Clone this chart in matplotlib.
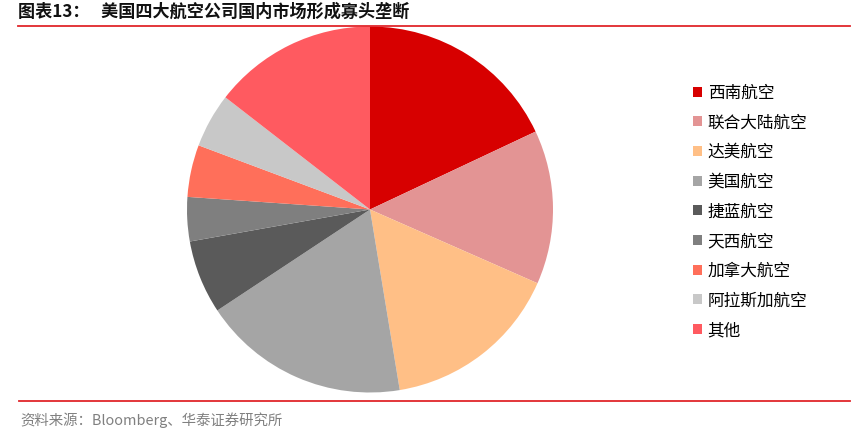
import matplotlib.pyplot as plt
from matplotlib.lines import Line2D

plt.rcParams['font.family'] = ['Noto Sans CJK SC', 'DejaVu Sans']

# 市场份额 (%)
airlines = ['西南航空', '联合大陆航空', '达美航空', '美国航空', '捷蓝航空',
            '天西航空', '加拿大航空', '阿拉斯加航空', '其他']
shares = [18.0, 13.6, 15.8, 18.3, 6.5, 3.9, 4.6, 4.8, 14.5]
colors = ['#D70000', '#E39494', '#FFBF86', '#A5A5A5', '#5A5A5A',
          '#7F7F7F', '#FF6F5A', '#C8C8C8', '#FF5A60']

W, H = 861, 441
fig = plt.figure(figsize=(W / 100, H / 100), dpi=100)

# 饼图：圆心约 (370, 209.5)，半径约 183 px
cx, cy, r = 370, 209.5, 183
ax = fig.add_axes([(cx - r) / W, (H - cy - r) / H, 2 * r / W, 2 * r / H])
wedges, _ = ax.pie(shares, colors=colors, startangle=90, counterclock=False,
                   radius=1, wedgeprops=dict(linewidth=0))
ax.set_xlim(-1, 1)
ax.set_ylim(-1, 1)
ax.set_aspect('equal')
ax.axis('off')

fig.legend(wedges, airlines, loc='upper left',
           bbox_to_anchor=(686 / W, 1 - 78 / H), frameon=False,
           fontsize=12, handlelength=0.55, handleheight=0.55,
           handletextpad=0.35, labelspacing=0.76, borderaxespad=0)

# 标题与分隔线
fig.text(18 / W, 1 - 12 / H, '图表13：   美国四大航空公司国内市场形成寡头垄断',
         fontsize=12.3, fontweight='bold', va='center', ha='left', color='#111111')
fig.add_artist(Line2D([18 / W, 850 / W], [1 - 26 / H, 1 - 26 / H],
                      transform=fig.transFigure, color='#E0262B', lw=1.3))
fig.add_artist(Line2D([19 / W, 850 / W], [1 - 400.5 / H, 1 - 400.5 / H],
                      transform=fig.transFigure, color='#E0262B', lw=1.3))
fig.text(20 / W, 1 - 420 / H, '资料来源：Bloomberg、华泰证券研究所',
         fontsize=10.4, va='center', ha='left', color='#808080')

fig.savefig('out.png', dpi=100)
